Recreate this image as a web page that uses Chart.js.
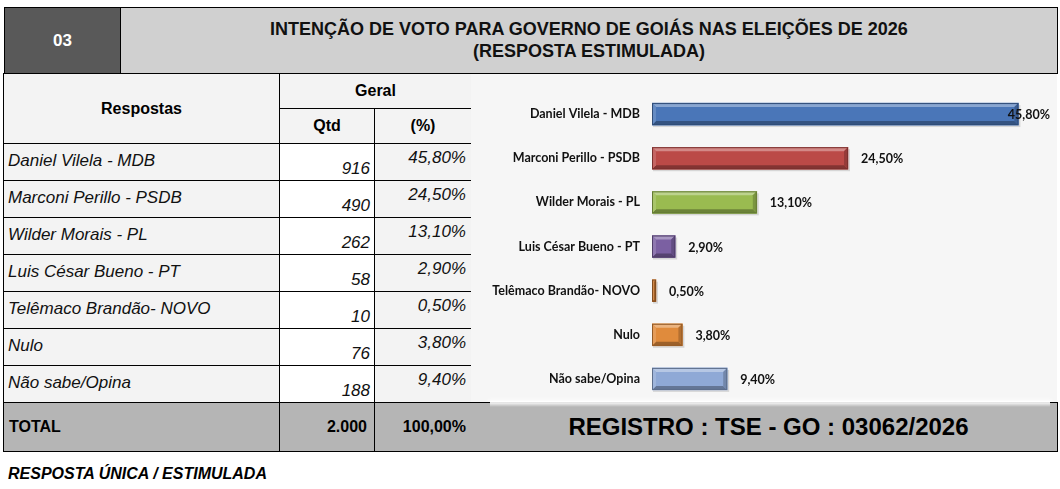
<!DOCTYPE html>
<html>
<head>
<meta charset="utf-8">
<script src="https://cdn.jsdelivr.net/npm/chart.js@4.4.0/dist/chart.umd.min.js"></script>
<style>
  html, body { margin: 0; padding: 0; background: #fff; }
  body { width: 1060px; height: 489px; position: relative; overflow: hidden; font-family: "Liberation Sans", Arial, sans-serif; }
  .num { position: absolute; left: 4px; top: 7px; width: 117px; height: 67px; background: #595959; border: 1px solid #000; color: #fff; font-weight: bold; font-size: 17px; display: flex; align-items: center; justify-content: center; box-sizing: border-box; }
  .title { position: absolute; left: 120px; top: 7px; width: 938px; height: 67px; background: #d0d0d0; border: 1px solid #000; font-weight: bold; font-size: 18px; text-align: center; line-height: 22px; padding-top: 10px; box-sizing: border-box; color: #111; }
  .cell { position: absolute; box-sizing: border-box; border: 1px solid #000; margin: 0; }
  .hd { font-weight: bold; font-size: 16px; display: flex; align-items: center; justify-content: center; background: #f3f3f3; }
  .txt { position: absolute; font-size: 17px; font-style: italic; color: #111; white-space: nowrap; line-height: 20px; }
  .tot { background: #b5b5b5; font-weight: bold; font-size: 16px; display: flex; align-items: center; }
  #chartBox { position: absolute; left: 471px; top: 74px; width: 586px; height: 328px; background: #f6f6f6; }
  #chartBox canvas { display: block; }
  .foot { position: absolute; left: 8px; top: 465px; font-size: 16px; font-weight: bold; font-style: italic; }
</style>
</head>
<body>
<div class="num">03</div>
<div class="title">INTENÇÃO DE VOTO PARA GOVERNO DE GOIÁS NAS ELEIÇÕES DE 2026<br>(RESPOSTA ESTIMULADA)</div>

<div class="cell hd" style="left:3px;top:73px;width:277px;height:71px;">Respostas</div>
<div class="cell hd" style="left:279px;top:73px;width:193px;height:36px;">Geral</div>
<div class="cell hd" style="left:279px;top:108px;width:96px;height:36px;">Qtd</div>
<div class="cell hd" style="left:374px;top:108px;width:98px;height:36px;">(%)</div>

<div id="rows"></div>

<div id="chartBox"><canvas id="chart" width="586" height="328" style="width:586px;height:328px;"></canvas></div>
<div style="position:absolute;left:490px;top:401px;width:560px;height:5px;background:#fff;box-shadow:0 1px 4px 2px rgba(255,255,255,0.9);"></div>

<div class="cell tot" style="left:3px;top:402px;width:277px;height:50px;padding-left:5px;">TOTAL</div>
<div class="cell tot" style="left:279px;top:402px;width:96px;height:50px;justify-content:flex-end;padding-right:7px;">2.000</div>
<div class="cell tot" style="left:374px;top:402px;width:98px;height:50px;justify-content:flex-end;padding-right:5px;">100,00%</div>
<div class="cell tot" style="left:471px;top:402px;width:587px;height:50px;justify-content:center;font-size:24px;padding-left:9px;border-left:none;">REGISTRO : TSE - GO : 03062/2026</div>
<div style="position:absolute;left:490px;top:402px;width:560px;height:5px;background:linear-gradient(#fff,rgba(255,255,255,0));"></div>

<div class="foot">RESPOSTA ÚNICA / ESTIMULADA</div>

<script>
// respostas da pesquisa
const respostas = ['Daniel Vilela - MDB', 'Marconi Perillo - PSDB', 'Wilder Morais - PL', 'Luis César Bueno - PT', 'Telêmaco Brandão- NOVO', 'Nulo', 'Não sabe/Opina'];
const qtd = [916, 490, 262, 58, 10, 76, 188];
const percentual = [45.8, 24.5, 13.1, 2.9, 0.5, 3.8, 9.4];
const barColors = ['#4a76b8', '#bb4a47', '#9abb50', '#7b60a2', '#c9772f', '#e08b3c', '#8fa9d6'];

const chartFont = 'Lato, "Open Sans", sans-serif';

function fmtPct(v) {
   return v.toFixed(2).replace('.', ',') + '%';
}

// linhas da tabela
const rowsEl = document.getElementById('rows');
const rowTop = 143, rowH = 37;
respostas.forEach((r, i) => {
   const top = rowTop + i * rowH;
   rowsEl.insertAdjacentHTML('beforeend',
      `<div class="cell" style="left:3px;top:${top}px;width:277px;height:${rowH + 1}px;background:#f3f3f3;"></div>` +
      `<div class="cell" style="left:279px;top:${top}px;width:96px;height:${rowH + 1}px;background:#fff;"></div>` +
      `<div class="cell" style="left:374px;top:${top}px;width:98px;height:${rowH + 1}px;background:#f3f3f3;"></div>` +
      `<div class="txt" style="left:8px;top:${top + 8}px;">${r}</div>` +
      `<div class="txt" style="right:${1060 - 370}px;top:${top + 16}px;">${qtd[i]}</div>` +
      `<div class="txt" style="right:${1060 - 466}px;top:${top + 5}px;">${fmtPct(percentual[i])}</div>`);
});

// mistura a cor com branco (p > 0) ou preto (p < 0)
function mix(hex, p) {
   const n = parseInt(hex.slice(1), 16);
   const t = p > 0 ? 255 : 0, a = Math.abs(p);
   const f = v => Math.round(v + (t - v) * a);
   return `rgb(${f(n >> 16)},${f((n >> 8) & 255)},${f(n & 255)})`;
}

function poly(ctx, pts, fill) {
   ctx.beginPath();
   ctx.moveTo(pts[0][0], pts[0][1]);
   for (let k = 1; k < pts.length; k++) ctx.lineTo(pts[k][0], pts[k][1]);
   ctx.closePath();
   ctx.fillStyle = fill;
   ctx.fill();
}

// efeito de relevo nas barras (como no Excel)
const bevel = {
   id: 'bevel',
   beforeDatasetsDraw(chart) {
      const ctx = chart.ctx;
      ctx.save();
      ctx.fillStyle = 'rgba(0,0,0,0.13)';
      chart.getDatasetMeta(0).data.forEach(bar => {
         const h = bar.height;
         ctx.fillRect(bar.base + 1, bar.y - h / 2 + 2, bar.x - bar.base + 1, h);
      });
      ctx.restore();
   },
   afterDatasetsDraw(chart) {
      const ctx = chart.ctx;
      ctx.save();
      chart.getDatasetMeta(0).data.forEach((bar, i) => {
         const c = barColors[i];
         const l = bar.base, r = bar.x, t = bar.y - bar.height / 2, b = bar.y + bar.height / 2;
         const d = Math.min(4, (r - l) / 2);
         poly(ctx, [[l, t], [r, t], [r - d, t + d], [l + d, t + d]], mix(c, 0.35));
         poly(ctx, [[l, b], [r, b], [r - d, b - d], [l + d, b - d]], mix(c, -0.3));
         poly(ctx, [[r, t], [r, b], [r - d, b - d], [r - d, t + d]], mix(c, -0.2));
         poly(ctx, [[l, t], [l, b], [l + d, b - d], [l + d, t + d]], mix(c, 0.15));
         ctx.strokeStyle = mix(c, -0.35);
         ctx.lineWidth = 1;
         ctx.strokeRect(l + 0.5, t + 0.5, r - l - 1, b - t - 1);
      });
      ctx.restore();
   }
};

const valueLabels = {
   id: 'valueLabels',
   afterDatasetsDraw(chart) {
      const ctx = chart.ctx;
      const meta = chart.getDatasetMeta(0);
      ctx.save();
      ctx.font = '700 12.5px ' + chartFont;
      ctx.fillStyle = '#111';
      ctx.textBaseline = 'middle';
      meta.data.forEach((bar, i) => {
         const txt = fmtPct(percentual[i]);
         const w = ctx.measureText(txt).width;
         let x = bar.x + 13;
         if (x + w > chart.width - 7) x = chart.width - 7 - w;
         ctx.fillText(txt, x, bar.y + 1);
      });
      ctx.restore();
   }
};

new Chart(document.getElementById('chart'), {
   type: 'bar',
   data: {
      labels: respostas,
      datasets: [{
         data: percentual,
         backgroundColor: barColors,
         borderWidth: 0,
         barThickness: 22
      }]
   },
   options: {
      indexAxis: 'y',
      responsive: false,
      animation: false,
      layout: { padding: { top: 18, bottom: 1, right: 5, left: 0 } },
      plugins: { legend: { display: false }, tooltip: { enabled: false } },
      scales: {
         x: { display: false, min: 0, max: 50 },
         y: {
            grid: { display: false },
            border: { display: false },
            afterFit: (s) => { s.width = 181; s.paddingTop = 0; s.paddingBottom = 0; },
            ticks: {
               padding: 4,
               color: '#111',
               font: { family: chartFont, size: 12.5, weight: 700 }
            }
         }
      }
   },
   plugins: [bevel, valueLabels]
});
</script>
</body>
</html>
